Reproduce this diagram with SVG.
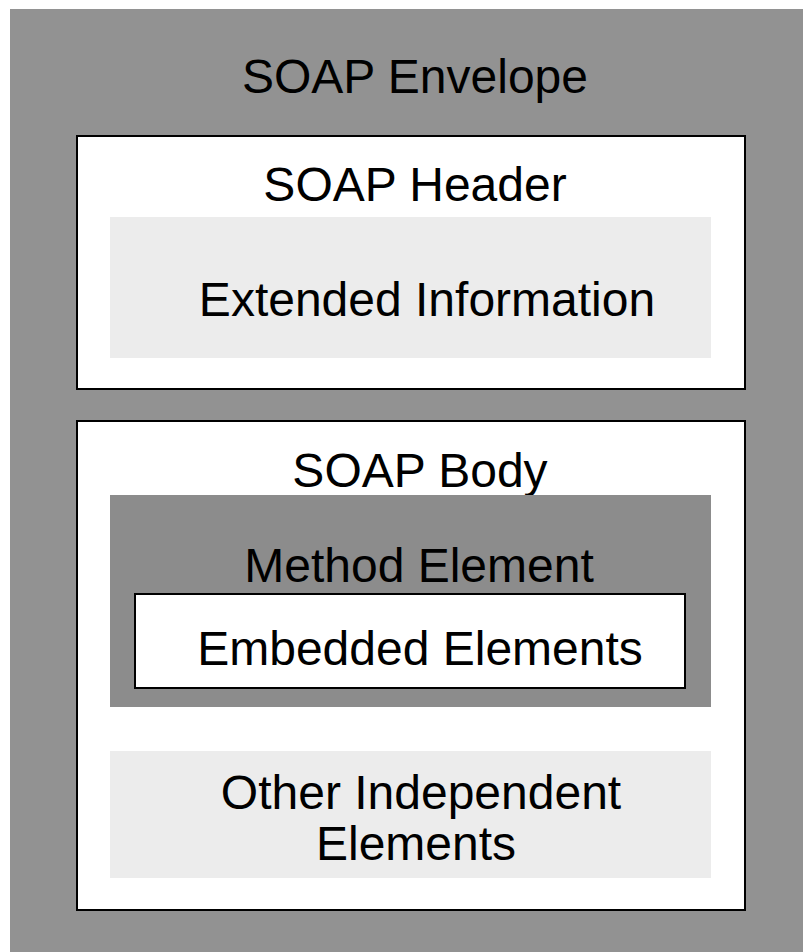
<svg xmlns="http://www.w3.org/2000/svg" width="803" height="952" viewBox="0 0 803 952">
  <style>
    .box { fill: #fff; stroke: #000; stroke-width: 2; }
    .light { fill: #ececec; }
    .dark { fill: #8c8c8c; }
  </style>
  <rect x="0" y="0" width="803" height="952" fill="#fff"/>
  <g font-family="'Liberation Sans', Arial, Helvetica, sans-serif" font-size="48" fill="#000" text-anchor="middle">
    <g id="envelope">
      <rect x="10" y="9" width="793" height="943" fill="#929292"/>
      <text x="415" y="93">SOAP Envelope</text>
    </g>
    <g id="header">
      <rect class="box" x="77" y="136" width="668" height="253"/>
      <text x="415" y="201">SOAP Header</text>
    </g>
    <g id="extended-information">
      <rect class="light" x="110" y="217" width="601" height="141"/>
      <text x="427" y="316">Extended Information</text>
    </g>
    <g id="body">
      <rect class="box" x="77" y="421" width="668" height="489"/>
      <text x="420" y="487">SOAP Body</text>
    </g>
    <g id="method-element">
      <rect class="dark" x="110" y="495" width="601" height="212"/>
      <text x="419" y="582">Method Element</text>
    </g>
    <g id="embedded-elements">
      <rect class="box" x="135" y="594" width="550" height="94"/>
      <text x="420" y="665">Embedded Elements</text>
    </g>
    <g id="other-independent-elements">
      <rect class="light" x="110" y="751" width="601" height="127"/>
      <text x="421" y="809">Other Independent</text>
      <text x="416" y="860">Elements</text>
    </g>
  </g>
  <g id="connectors"></g>
</svg>
